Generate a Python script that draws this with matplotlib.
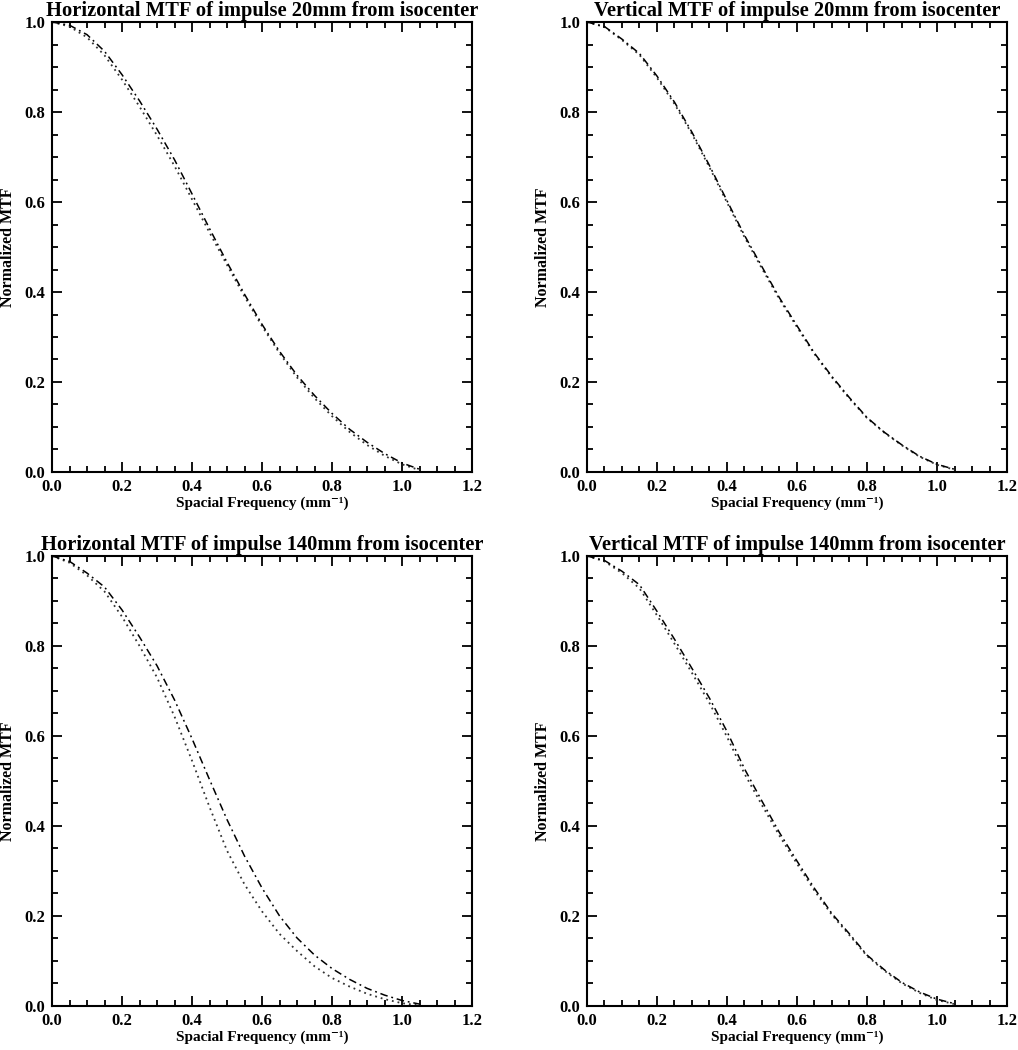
import matplotlib
matplotlib.use('Agg')
import matplotlib.pyplot as plt
from matplotlib.ticker import MultipleLocator

plt.rcParams['font.family'] = ['Liberation Serif', 'DejaVu Serif']
plt.rcParams['font.weight'] = 'bold'

# spatial frequency samples (mm^-1)
freq = [0.00, 0.05, 0.10, 0.15, 0.20, 0.25, 0.30, 0.35, 0.40, 0.45, 0.50,
        0.55, 0.60, 0.65, 0.70, 0.75, 0.80, 0.85, 0.90, 0.95, 1.00, 1.05]

# horizontal, 20mm
h20_dashdot = [1.000, 0.993, 0.972, 0.935, 0.883, 0.825, 0.762, 0.694, 0.618, 0.541, 0.466,
               0.395, 0.328, 0.268, 0.215, 0.170, 0.130, 0.095, 0.066, 0.041, 0.020, 0.006]
h20_dotted = [1.000, 0.990, 0.966, 0.926, 0.872, 0.812, 0.748, 0.680, 0.606, 0.532, 0.460,
              0.390, 0.324, 0.264, 0.210, 0.164, 0.124, 0.089, 0.060, 0.036, 0.017, 0.004]

# vertical, 20mm
v20_dashdot = [1.000, 0.990, 0.962, 0.930, 0.880, 0.822, 0.755, 0.681, 0.603, 0.526, 0.456,
               0.387, 0.325, 0.264, 0.212, 0.165, 0.121, 0.088, 0.060, 0.035, 0.017, 0.006]
v20_dotted = [1.000, 0.989, 0.960, 0.927, 0.876, 0.818, 0.751, 0.677, 0.599, 0.522, 0.452,
              0.384, 0.322, 0.262, 0.210, 0.163, 0.120, 0.087, 0.059, 0.034, 0.016, 0.005]

# horizontal, 140mm
h140_dashdot = [1.000, 0.988, 0.962, 0.931, 0.880, 0.820, 0.756, 0.680, 0.594, 0.503, 0.414,
                0.333, 0.262, 0.200, 0.151, 0.113, 0.083, 0.059, 0.039, 0.024, 0.012, 0.004]
h140_dotted = [1.000, 0.985, 0.957, 0.921, 0.865, 0.800, 0.730, 0.643, 0.545, 0.442, 0.345,
               0.270, 0.210, 0.160, 0.122, 0.088, 0.062, 0.043, 0.027, 0.015, 0.006, 0.001]

# vertical, 140mm
v140_dashdot = [1.000, 0.990, 0.966, 0.936, 0.877, 0.815, 0.750, 0.684, 0.610, 0.527, 0.455,
                0.385, 0.322, 0.261, 0.205, 0.160, 0.113, 0.080, 0.052, 0.031, 0.015, 0.005]
v140_dotted = [1.000, 0.988, 0.962, 0.928, 0.868, 0.805, 0.740, 0.673, 0.598, 0.516, 0.446,
               0.378, 0.316, 0.256, 0.202, 0.157, 0.111, 0.078, 0.050, 0.029, 0.013, 0.004]

titles = ['Horizontal MTF of impulse 20mm from isocenter',
          'Vertical MTF of impulse 20mm from isocenter',
          'Horizontal MTF of impulse 140mm from isocenter',
          'Vertical MTF of impulse 140mm from isocenter']
dashdot_series = [h20_dashdot, v20_dashdot, h140_dashdot, v140_dashdot]
dotted_series = [h20_dotted, v20_dotted, h140_dotted, v140_dotted]

fig = plt.figure(figsize=(10.18, 10.5), dpi=100)

# axes boxes in figure fraction: left, bottom, width, height
boxes = [[0.0511, 0.5505, 0.4126, 0.4285],
         [0.5766, 0.5505, 0.4126, 0.4285],
         [0.0511, 0.0420, 0.4126, 0.4285],
         [0.5766, 0.0420, 0.4126, 0.4285]]

for box, title, dd, dt in zip(boxes, titles, dashdot_series, dotted_series):
    ax = fig.add_axes(box)
    ax.plot(freq, dt, color='#333333', linestyle=(0, (1, 2.2)), linewidth=1.3)
    ax.plot(freq, dd, color='black', linestyle=(0, (5, 2.5, 1.2, 2.5)), linewidth=1.1)

    ax.set_xlim(0, 1.2)
    ax.set_ylim(0, 1.0)
    ax.xaxis.set_major_locator(MultipleLocator(0.2))
    ax.xaxis.set_minor_locator(MultipleLocator(0.05))
    ax.yaxis.set_major_locator(MultipleLocator(0.2))
    ax.yaxis.set_minor_locator(MultipleLocator(0.05))
    ax.xaxis.set_major_formatter(plt.FormatStrFormatter('%.1f'))
    ax.yaxis.set_major_formatter(plt.FormatStrFormatter('%.1f'))
    ax.tick_params(which='both', direction='in', top=True, right=True, width=1.3)
    ax.tick_params(which='major', length=7, labelsize=12, pad=5)
    ax.tick_params(which='minor', length=4)
    for s in ax.spines.values():
        s.set_linewidth(1.5)

    ax.set_title(title, fontsize=14.8, fontweight='bold', pad=4)
    ax.set_xlabel('Spacial Frequency (mm\u207b\u00b9)', fontsize=11, fontweight='bold', labelpad=1)
    ax.set_ylabel('Normalized MTF', fontsize=11.5, fontweight='bold')
    ax.yaxis.set_label_coords(-0.085, 0.5)

fig.savefig('out.png', dpi=100, facecolor='white')
